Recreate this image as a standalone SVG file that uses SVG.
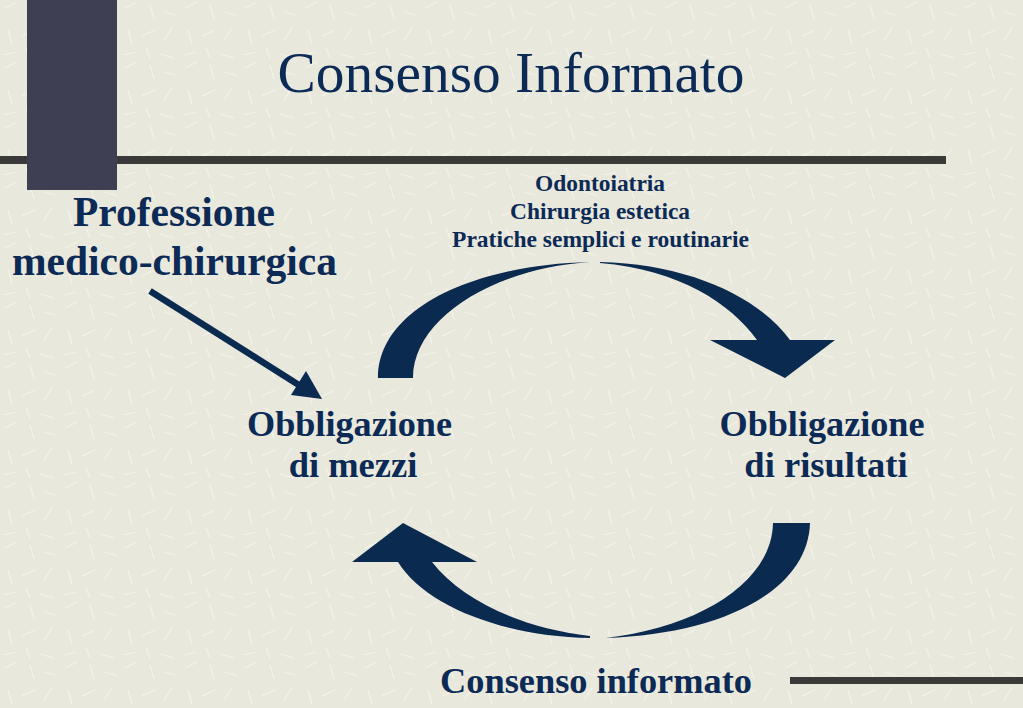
<svg xmlns="http://www.w3.org/2000/svg" width="1023" height="708" viewBox="0 0 1023 708">
<defs>
<pattern id="tex" width="60" height="60" patternUnits="userSpaceOnUse">
<g stroke="#f6f5ee" stroke-width="1.2" opacity="0.8">
<line x1="5" y1="8" x2="17" y2="2"/><line x1="30" y1="5" x2="34" y2="19"/><line x1="45" y1="12" x2="57" y2="16"/>
<line x1="8" y1="30" x2="12" y2="44"/><line x1="22" y1="36" x2="35" y2="30"/><line x1="44" y1="40" x2="52" y2="28"/>
<line x1="3" y1="55" x2="16" y2="52"/><line x1="26" y1="48" x2="30" y2="58"/><line x1="40" y1="54" x2="54" y2="58"/>
</g>
</pattern>
</defs>
<style>
.t{font-family:"Liberation Serif","Times New Roman",serif;fill:#0b2a55;text-anchor:middle}
.b{font-weight:bold}
.ar{fill:#0b2a50}
</style>
<rect width="1023" height="708" fill="#e9e8dc"/>
<rect width="1023" height="708" fill="url(#tex)"/>
<g id="decor">
<rect x="0" y="156" width="946" height="8" fill="#3a3a3a"/>
<rect x="27" y="0" width="90" height="190" fill="#3e3f52"/>
<rect x="790" y="677" width="233" height="7" fill="#3a3a3a"/>
</g>
<g id="title"><text class="t" x="511" y="92" font-size="58" textLength="467" lengthAdjust="spacingAndGlyphs">Consenso Informato</text></g>
<g id="professione">
<text class="t b" x="174" y="226" font-size="42" textLength="202" lengthAdjust="spacingAndGlyphs">Professione</text>
<text class="t b" x="174.5" y="275" font-size="42" textLength="325" lengthAdjust="spacingAndGlyphs">medico-chirurgica</text>
</g>
<g id="categorie">
<text class="t b" x="600" y="191" font-size="22.5" textLength="130" lengthAdjust="spacingAndGlyphs">Odontoiatria</text>
<text class="t b" x="600" y="219" font-size="22.5" textLength="180" lengthAdjust="spacingAndGlyphs">Chirurgia estetica</text>
<text class="t b" x="600.5" y="247" font-size="22.5" textLength="297" lengthAdjust="spacingAndGlyphs">Pratiche semplici e routinarie</text>
</g>
<g id="mezzi">
<text class="t b" x="349.5" y="436" font-size="36.5" textLength="205" lengthAdjust="spacingAndGlyphs">Obbligazione</text>
<text class="t b" x="353" y="477" font-size="36.5">di mezzi</text>
</g>
<g id="risultati">
<text class="t b" x="822" y="436" font-size="36.5" textLength="205" lengthAdjust="spacingAndGlyphs">Obbligazione</text>
<text class="t b" x="826" y="477" font-size="36.5">di risultati</text>
</g>
<g id="consenso">
<text class="t b" x="596" y="693" font-size="36.5" textLength="312" lengthAdjust="spacingAndGlyphs">Consenso informato</text>
</g>
<g id="connectors">
<line x1="150" y1="291" x2="302" y2="387" stroke="#0b2a50" stroke-width="6.5"/>
<path class="ar" d="M322,399 L291,395 L306,371 Z"/>
<path class="ar" d="M378,378 C378,310 470,265 590,262 C495,268 413,318 413,378 Z"/>
<path class="ar" d="M600,262 C690,264 760,298 790,340 L835,340 L785,378 L710,340 L757,340 C730,303 680,270 600,263 Z"/>
<path class="ar" d="M773,523 L810,523 C808,592 720,634 606,638 C700,627 772,582 773,523 Z"/>
<path class="ar" d="M590,638 C500,636 425,605 398,562 L352,562 L403,523 L477,562 L432,562 C462,600 520,628 590,636 Z"/>
</g>
</svg>
